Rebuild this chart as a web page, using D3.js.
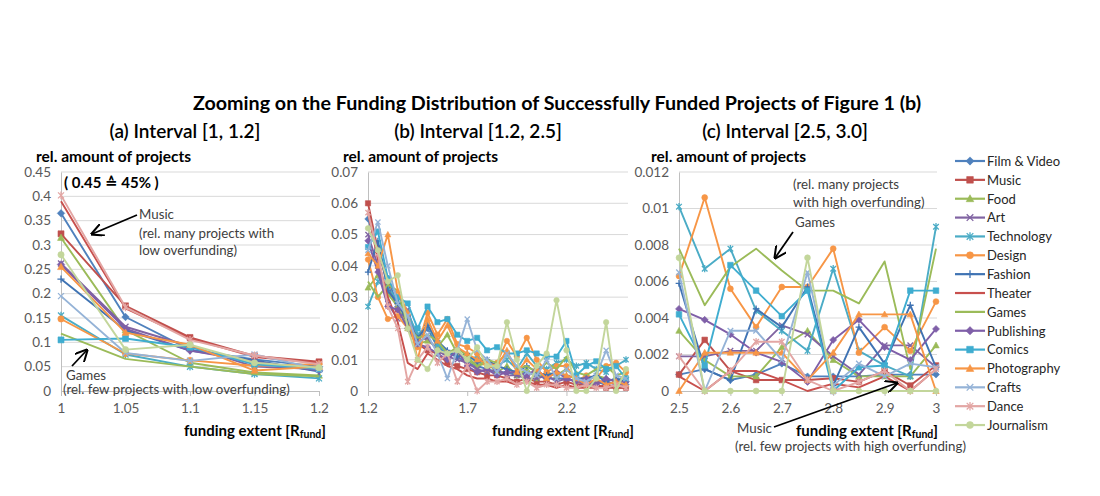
<!DOCTYPE html>
<html><head><meta charset="utf-8">
<script src="https://cdn.jsdelivr.net/npm/d3@7"></script>
<style>
body{margin:0;background:#fff;}
svg{display:block;font-family:Lato,"Open Sans","DejaVu Sans",sans-serif;}
</style></head><body>
<svg id="chart" width="1100" height="496"></svg>
<script>
// ---------- DATA ----------
const seriesNames = ["Film & Video","Music","Food","Art","Technology","Design","Fashion","Theater","Games","Publishing","Comics","Photography","Crafts","Dance","Journalism"];
const seriesColors = ["#4F81BD","#C0504D","#9BBB59","#8064A2","#4BACC6","#F79646","#3F73B3","#C8504D","#9BBB59","#7F5FA8","#3FADD0","#F79646","#95B3D7","#E3A6A4","#C3D69B"];
const seriesMarkers = ["diamond","square","triangle","x","star","circle","plus","none","none","diamond","square","triangle","x","star","circle"];

// Panel (a): interval [1, 1.2]
const xA = [1, 1.05, 1.1, 1.15, 1.2];
const valuesA = [
  [0.365,0.152,0.085,0.065,0.050], // Film & Video
  [0.323,0.175,0.110,0.072,0.060], // Music
  [0.315,0.125,0.058,0.038,0.032], // Food
  [0.262,0.132,0.092,0.050,0.045], // Art
  [0.155,0.075,0.050,0.035,0.026], // Technology
  [0.148,0.077,0.063,0.052,0.055], // Design
  [0.230,0.125,0.083,0.063,0.040], // Fashion
  [0.390,0.170,0.108,0.070,0.058], // Theater
  [0.118,0.066,0.050,0.035,0.030], // Games
  [0.260,0.128,0.083,0.060,0.042], // Publishing
  [0.105,0.108,0.090,0.055,0.045], // Comics
  [0.255,0.120,0.095,0.042,0.050], // Photography
  [0.195,0.078,0.062,0.075,0.045], // Crafts
  [0.402,0.172,0.105,0.073,0.055], // Dance
  [0.280,0.085,0.095,0.058,0.048]  // Journalism
];
const yTicksA = [0,0.05,0.1,0.15,0.2,0.25,0.3,0.35,0.4,0.45];
const yLabelsA = ["0","0.05","0.1","0.15","0.2","0.25","0.3","0.35","0.4","0.45"];
const xLabelsA = ["1","1.05","1.1","1.15","1.2"];

// Panel (b): interval [1.2, 2.5]
const xB = [1.2,1.25,1.3,1.35,1.4,1.45,1.5,1.55,1.6,1.65,1.7,1.75,1.8,1.85,1.9,1.95,2.0,2.05,2.1,2.15,2.2,2.25,2.3,2.35,2.4,2.45,2.5];
const valuesB = [
  [0.055,0.046,0.036,0.027,0.024,0.016,0.020,0.014,0.012,0.011,0.009,0.008,0.007,0.006,0.006,0.005,0.006,0.005,0.004,0.004,0.004,0.003,0.003,0.003,0.002,0.003,0.002],
  [0.060,0.045,0.034,0.026,0.022,0.015,0.013,0.012,0.009,0.008,0.007,0.006,0.005,0.005,0.004,0.003,0.004,0.003,0.003,0.002,0.003,0.002,0.002,0.002,0.001,0.001,0.001],
  [0.033,0.037,0.031,0.027,0.020,0.015,0.016,0.014,0.018,0.012,0.010,0.008,0.009,0.006,0.008,0.005,0.007,0.004,0.006,0.005,0.007,0.004,0.003,0.005,0.004,0.003,0.005],
  [0.050,0.040,0.028,0.023,0.026,0.016,0.017,0.013,0.011,0.010,0.009,0.007,0.006,0.007,0.005,0.005,0.004,0.004,0.005,0.003,0.004,0.003,0.002,0.003,0.003,0.002,0.002],
  [0.027,0.035,0.033,0.029,0.025,0.018,0.021,0.015,0.012,0.013,0.010,0.011,0.009,0.008,0.010,0.007,0.012,0.008,0.007,0.009,0.010,0.008,0.009,0.007,0.006,0.008,0.010],
  [0.042,0.030,0.023,0.024,0.020,0.014,0.025,0.018,0.023,0.015,0.014,0.012,0.007,0.009,0.016,0.011,0.017,0.010,0.006,0.008,0.008,0.003,0.005,0.004,0.008,0.009,0.006],
  [0.038,0.048,0.032,0.028,0.022,0.017,0.021,0.016,0.013,0.011,0.012,0.009,0.010,0.008,0.007,0.006,0.008,0.006,0.005,0.006,0.005,0.004,0.004,0.005,0.003,0.004,0.003],
  [0.057,0.042,0.030,0.022,0.009,0.007,0.012,0.010,0.008,0.007,0.005,0.004,0.004,0.003,0.003,0.002,0.003,0.002,0.002,0.001,0.002,0.001,0.001,0.001,0.002,0.001,0.001],
  [0.035,0.030,0.034,0.032,0.021,0.017,0.018,0.016,0.012,0.014,0.011,0.008,0.010,0.009,0.012,0.007,0.008,0.006,0.009,0.007,0.011,0.006,0.005,0.007,0.008,0.005,0.006],
  [0.048,0.038,0.027,0.026,0.020,0.015,0.014,0.012,0.010,0.013,0.008,0.006,0.007,0.005,0.006,0.006,0.005,0.007,0.004,0.006,0.004,0.003,0.004,0.002,0.004,0.003,0.003],
  [0.046,0.051,0.036,0.030,0.028,0.020,0.027,0.022,0.023,0.018,0.016,0.017,0.013,0.014,0.012,0.012,0.013,0.012,0.011,0.011,0.016,0.005,0.008,0.0095,0.007,0.008,0.004],
  [0.044,0.040,0.050,0.032,0.025,0.010,0.023,0.016,0.021,0.014,0.012,0.010,0.009,0.008,0.013,0.006,0.010,0.007,0.004,0.006,0.005,0.004,0.002,0.004,0.002,0.003,0.002],
  [0.045,0.054,0.040,0.028,0.024,0.015,0.018,0.012,0.004,0.013,0.023,0.013,0.010,0.006,0.012,0.008,0.006,0.005,0.010,0.004,0.007,0.004,0.003,0.005,0.013,0.005,0.004],
  [0.057,0.044,0.027,0.020,0.003,0.010,0.014,0.009,0.012,0.003,0.008,0.000,0.003,0.003,0.004,0.002,0.003,0.001,0.002,0.002,0.001,0.001,0.002,0.001,0.001,0.002,0.001],
  [0.052,0.045,0.035,0.037,0.020,0.010,0.007,0.013,0.012,0.013,0.010,0.014,0.008,0.008,0.022,0.010,0.000,0.008,0.012,0.029,0.013,0.000,0.000,0.004,0.022,0.000,0.007]
];
const yTicksB = [0,0.01,0.02,0.03,0.04,0.05,0.06,0.07];
const yLabelsB = ["0","0.01","0.02","0.03","0.04","0.05","0.06","0.07"];
const xTicksB = [1.2,1.7,2.2];
const xLabelsB = ["1.2","1.7","2.2"];

// Panel (c): interval [2.5, 3.0]
const xC = [2.5,2.55,2.6,2.65,2.7,2.75,2.8,2.85,2.9,2.95,3.0];
const valuesC = [
  [0.0009,0.0012,0.0006,0.0009,0.0015,0.0008,0.0008,0.0008,0.0009,0.0009,0.0009],
  [0.0009,0.0028,0.0011,0.0006,0.0006,0.0006,0.0007,0.0005,0.0011,0.0003,0.0014],
  [0.0033,0.0017,0.0008,0.0008,0.0024,0.0033,0.0017,0.0008,0.0008,0.0008,0.0025],
  [0.0019,0.0019,0.0022,0.0022,0.0036,0.0031,0.0019,0.0009,0.0025,0.0025,0.0013],
  [0.0101,0.0067,0.0078,0.0044,0.0033,0.0022,0.0067,0.0022,0.0014,0.0008,0.0090],
  [0.0063,0.0106,0.0056,0.0035,0.0057,0.0057,0.0078,0.0021,0.0035,0.0022,0.0049],
  [0.0059,0.0012,0.0006,0.0045,0.0035,0.0057,0.0003,0.0035,0.0015,0.0047,0.0013],
  [0.0008,0.0000,0.0011,0.0011,0.0006,0.0000,0.0004,0.0002,0.0008,0.0000,0.0012],
  [0.0078,0.0047,0.0068,0.0078,0.0066,0.0055,0.0055,0.0048,0.0071,0.0012,0.0078],
  [0.0045,0.0039,0.0031,0.0021,0.0016,0.0005,0.0028,0.0039,0.0024,0.0017,0.0034],
  [0.0042,0.0014,0.0069,0.0055,0.0041,0.0055,0.0000,0.0013,0.0014,0.0055,0.0055],
  [0.0000,0.0021,0.0021,0.0021,0.0021,0.0006,0.0021,0.0042,0.0042,0.0042,0.0000],
  [0.0065,0.0000,0.0033,0.0033,0.0017,0.0065,0.0003,0.0015,0.0008,0.0015,0.0013],
  [0.0019,0.0000,0.0011,0.0027,0.0027,0.0006,0.0000,0.0005,0.0011,0.0000,0.0012],
  [0.0073,0.0000,0.0000,0.0000,0.0000,0.0073,0.0000,0.0000,0.0000,0.0000,0.0000]
];
const yTicksC = [0,0.002,0.004,0.006,0.008,0.01,0.012];
const yLabelsC = ["0","0.002","0.004","0.006","0.008","0.01","0.012"];
const xTicksC = [2.5,2.6,2.7,2.8,2.9,3.0];
const xLabelsC = ["2.5","2.6","2.7","2.8","2.9","3"];

const mainTitle = "Zooming on the Funding Distribution of Successfully Funded Projects of Figure 1 (b)";
const panelTitles = ["(a) Interval [1, 1.2]","(b) Interval [1.2, 2.5]","(c) Interval [2.5, 3.0]"];

// ---------- DRAWING ----------
const svg = d3.select("#chart");
svg.append("rect").attr("width",1100).attr("height",496).attr("fill","#fff");

function markerPath(type, r){
  switch(type){
    case "diamond": return `M0,${-r*1.25}L${r*1.25},0L0,${r*1.25}L${-r*1.25},0Z`;
    case "square": return `M${-r},${-r}h${2*r}v${2*r}h${-2*r}Z`;
    case "triangle": return `M0,${-r*1.2}L${r*1.15},${r*0.9}L${-r*1.15},${r*0.9}Z`;
    case "circle": return d3.symbol(d3.symbolCircle, Math.PI*r*r*1.1)();
    case "x": return `M${-r},${-r}L${r},${r}M${-r},${r}L${r},${-r}`;
    case "star": return `M${-r},${-r}L${r},${r}M${-r},${r}L${r},${-r}M0,${-r*1.3}V${r*1.3}`;
    case "plus": return `M0,${-r*1.2}V${r*1.2}M${-r*1.2},0H${r*1.2}`;
  }
  return null;
}
const filled = t => ["diamond","square","triangle","circle"].includes(t);

function drawMarker(g, type, color, x, y, r){
  const p = markerPath(type, r);
  if(!p) return;
  const m = g.append("path").attr("d", p).attr("transform", `translate(${x},${y})`);
  if(filled(type)) m.attr("fill", color).attr("stroke", color).attr("stroke-width", 0.6);
  else m.attr("fill","none").attr("stroke", color).attr("stroke-width", 1.3);
}

function drawPanel(cfg){
  const g = svg.append("g");
  const x = d3.scaleLinear().domain(cfg.xDomain).range([cfg.left, cfg.right]);
  const y = d3.scaleLinear().domain(cfg.yDomain).range([cfg.bottom, cfg.top]);

  g.append("g").selectAll("line").data(cfg.yTicks.slice(1)).join("line")
    .attr("x1", cfg.left).attr("x2", cfg.gridRight)
    .attr("y1", d => y(d)).attr("y2", d => y(d))
    .attr("stroke", "#D9D9D9").attr("stroke-width", 1);

  const yAxis = d3.axisLeft(y).tickValues(cfg.yTicks).tickSize(0).tickPadding(10)
    .tickFormat((d,i) => cfg.yLabels[i]);
  const ya = g.append("g").attr("transform", `translate(${cfg.left},0)`).call(yAxis);
  ya.select(".domain").attr("stroke", "#BFBFBF");
  ya.selectAll("text").attr("fill", "#595959").style("font-size", "13.5px").style("font-family","Lato,'Open Sans',sans-serif");

  const xAxis = d3.axisBottom(x).tickValues(cfg.xTicks).tickSize(5).tickPadding(7)
    .tickFormat((d,i) => cfg.xLabels[i]);
  const xa = g.append("g").attr("transform", `translate(0,${cfg.bottom})`).call(xAxis);
  xa.select(".domain").attr("d", `M${cfg.left},0.5H${cfg.gridRight}`).attr("stroke", "#BFBFBF");
  xa.selectAll(".tick line").attr("stroke", "#BFBFBF");
  xa.selectAll("text").attr("fill", "#595959").style("font-size", "13.5px").style("font-family","Lato,'Open Sans',sans-serif");

  const line = d3.line().x((d,i) => x(cfg.xs[i])).y(d => y(d));
  cfg.values.forEach((vals, s) => {
    const sg = g.append("g");
    sg.append("path").datum(vals).attr("d", line)
      .attr("fill","none").attr("stroke", seriesColors[s]).attr("stroke-width", 1.9)
      .attr("stroke-linejoin","round");
    vals.forEach((v,i) => drawMarker(sg, seriesMarkers[s], seriesColors[s], x(cfg.xs[i]), y(v), cfg.mr));
  });

  g.append("text").attr("x", cfg.yTitleX).attr("y", 162)
    .attr("font-size", 15.5).attr("font-weight", "bold").attr("fill", "#000")
    .text("rel. amount of projects");
  const xt = g.append("text").attr("x", cfg.xTitleX).attr("y", 436).attr("text-anchor","end")
    .attr("font-size", 15).attr("font-weight", "bold").attr("fill", "#000");
  xt.append("tspan").text("funding extent [R");
  xt.append("tspan").attr("font-size", 10.5).attr("dy", 2).text("fund");
  xt.append("tspan").attr("dy", -2).text("]");
  svg.append("text").attr("x", cfg.titleX).attr("y", 138).attr("text-anchor","middle")
    .attr("font-size", 19).attr("font-weight", 600).attr("fill","#000").text(cfg.title);
  return g;
}

drawPanel({xDomain:[1,1.2], yDomain:[0,0.45], left:61, right:319, gridRight:320, top:172, bottom:391,
  xs:xA, values:valuesA, yTicks:yTicksA, yLabels:yLabelsA, xTicks:xA, xLabels:xLabelsA, mr:3,
  yTitleX:36, xTitleX:326, titleX:185, title:panelTitles[0]});
drawPanel({xDomain:[1.2,2.5], yDomain:[0,0.07], left:368, right:626, gridRight:628, top:172, bottom:391,
  xs:xB, values:valuesB, yTicks:yTicksB, yLabels:yLabelsB, xTicks:xTicksB, xLabels:xLabelsB, mr:2.6,
  yTitleX:343, xTitleX:634, titleX:478, title:panelTitles[1]});
drawPanel({xDomain:[2.5,3.0], yDomain:[0,0.012], left:679, right:936, gridRight:937, top:172, bottom:391,
  xs:xC, values:valuesC, yTicks:yTicksC, yLabels:yLabelsC, xTicks:xTicksC, xLabels:xLabelsC, mr:2.8,
  yTitleX:651, xTitleX:938, titleX:785, title:panelTitles[2]});

svg.append("text").attr("x", 557).attr("y", 110).attr("text-anchor","middle")
  .attr("font-size", 19.7).attr("font-weight","bold").attr("fill","#000").text(mainTitle);

svg.append("defs").append("marker").attr("id","ah").attr("viewBox","0 0 10 10")
  .attr("refX",9).attr("refY",5).attr("markerWidth",7).attr("markerHeight",7).attr("orient","auto")
  .append("path").attr("d","M0,0L10,5L0,10").attr("fill","none").attr("stroke","#000").attr("stroke-width",1.6);
function arrow(x1,y1,x2,y2){
  svg.append("line").attr("x1",x1).attr("y1",y1).attr("x2",x2).attr("y2",y2)
    .attr("stroke","#000").attr("stroke-width",1.8).attr("marker-end","url(#ah)");
}
function note(x,y,t,opts={}){
  svg.append("text").attr("x",x).attr("y",y).attr("font-size",opts.size||13.3)
    .attr("font-weight",opts.weight||"normal").attr("fill",opts.fill||"#404040").text(t);
}
note(64,188,"( 0.45 \u2259 45% )",{size:15,weight:"bold",fill:"#000"});
note(139,219,"Music");
note(139,238,"(rel. many projects with");
note(139,255,"low overfunding)");
arrow(137,215,92,234);
note(66,380,"Games");
note(63,394,"(rel. few projects with low overfunding)");
arrow(72,366,87,350);
note(793,189,"(rel. many projects");
note(793,207,"with high overfunding)");
note(795,227,"Games");
arrow(793,232,775,258);
note(737,433,"Music");
note(735,451,"(rel. few projects with high overfunding)");
arrow(774,427,897,383);

const lg = svg.append("g");
seriesNames.forEach((n,i) => {
  const yy = 161 + i*18.86;
  lg.append("line").attr("x1",955).attr("x2",985).attr("y1",yy).attr("y2",yy)
    .attr("stroke",seriesColors[i]).attr("stroke-width",2.2);
  drawMarker(lg, seriesMarkers[i], seriesColors[i], 970, yy, 3.3);
  lg.append("text").attr("x",987).attr("y",yy+4.8).attr("font-size",13).attr("fill","#262626").text(n);
});
</script>
</body></html>
